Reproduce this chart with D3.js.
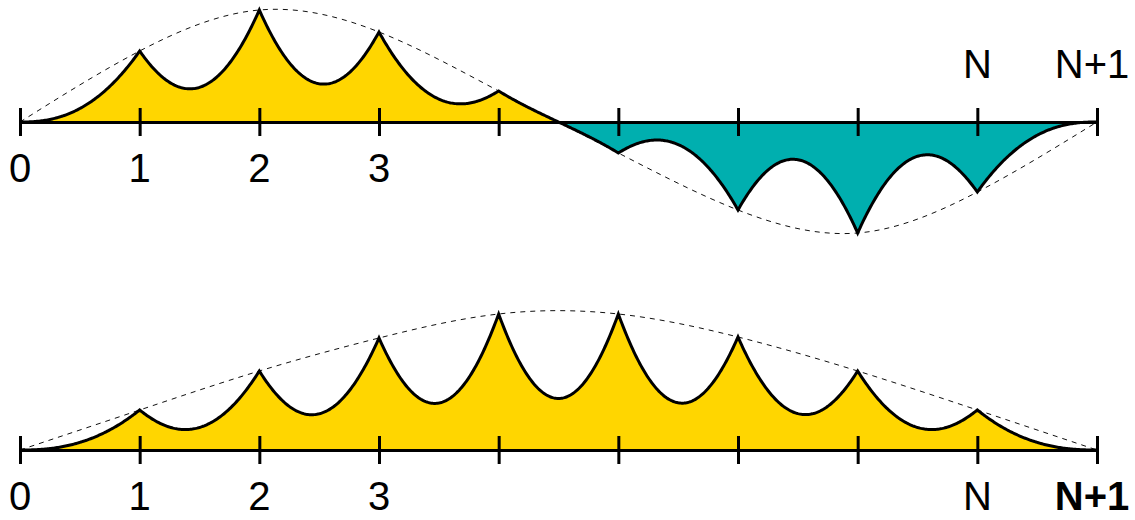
<!DOCTYPE html>
<html lang="en">
<head>
    <meta charset="UTF-8">
    <title>chain</title>
    <script src="https://cdn.jsdelivr.net/npm/d3@7"></script>
    <style>
        body { margin: 0; background: #fff; }
        text { font-family: "Liberation Sans", Arial, Helvetica, sans-serif; }
    </style>
</head>
<body>
<script type="text/javascript">
    // sites 0 .. N+1
    var sites = d3.range(10);
    // amplitude on each site (px units)
    var topValues = [0, 71, 112, 90, 31, -31, -88, -111, -70, 0];
    var bottomValues = [0, 40, 79, 112, 136, 136, 113, 79, 40, 0];
    var tickLabels = ['0', '1', '2', '3', '', '', '', '', 'N', 'N+1'];

    var width = 1135, height = 520;
    var svg = d3.select('body').append('svg')
            .attr('width', width)
            .attr('height', height);

    var x = d3.scaleLinear().domain([0, 9]).range([20, 1097]);

    // shape of one localized bump (cusp at the site, zero at the neighbours)
    function bump(d) {
        d = Math.abs(d);
        return d >= 1 ? 0 : Math.pow(1 - d, 2.4);
    }
    function wave(values, t) {
        var s = 0;
        values.forEach(function (c, i) { s += c * bump(t - i); });
        return s;
    }
    var samples = d3.range(0, 901).map(function (i) { return i / 100; });

    function panel(values, yScale, bold) {
        var g = svg.append('g');
        var pts = samples.map(function (t) { return [t, wave(values, t)]; });

        var pos = d3.area()
                .x(function (d) { return x(d[0]); })
                .y0(yScale(0))
                .y1(function (d) { return yScale(Math.max(d[1], 0)); });
        var neg = d3.area()
                .x(function (d) { return x(d[0]); })
                .y0(yScale(0))
                .y1(function (d) { return yScale(Math.min(d[1], 0)); });
        g.append('path').attr('d', pos(pts)).attr('fill', '#FFD600');
        g.append('path').attr('d', neg(pts)).attr('fill', '#00AFAF');

        // dashed envelope through the site amplitudes
        var env = d3.line()
                .x(function (d, i) { return x(i); })
                .y(function (d) { return yScale(d); })
                .curve(d3.curveNatural);
        g.append('path').attr('d', env(values))
                .attr('fill', 'none')
                .attr('stroke', '#111')
                .attr('stroke-width', 1)
                .attr('stroke-dasharray', '5,5');

        var line = d3.line()
                .x(function (d) { return x(d[0]); })
                .y(function (d) { return yScale(d[1]); });
        g.append('path').attr('d', line(pts))
                .attr('fill', 'none')
                .attr('stroke', '#000')
                .attr('stroke-width', 3)
                .attr('stroke-linejoin', 'miter');

        // axis with ticks both ways
        var axis = g.append('g')
                .attr('transform', 'translate(0,' + yScale(0) + ')')
                .call(d3.axisBottom(x).tickValues(sites).tickSizeOuter(0).tickFormat(''));
        axis.select('.domain').attr('stroke', '#000').attr('stroke-width', 3);
        axis.selectAll('.tick line')
                .attr('y1', -14).attr('y2', 14)
                .attr('stroke', '#000').attr('stroke-width', 3);

        g.selectAll('.lab')
                .data(tickLabels)
                .enter()
                .append('text')
                .attr('class', 'lab')
                .attr('x', function (d, i) { return x(i) - (i === 9 ? 5 : 0); })
                .attr('y', function (d, i) {
                    var above = values[i] < 0 || (i > 0 && values[i - 1] < 0);
                    return above ? yScale(0) - 44 : yScale(0) + 60;
                })
                .attr('text-anchor', 'middle')
                .attr('font-size', 40)
                .attr('font-weight', function (d, i) { return bold && i === 9 ? 'bold' : 'normal'; })
                .attr('fill', '#000')
                .text(function (d) { return d; });
    }

    panel(topValues, d3.scaleLinear().domain([-120, 120]).range([242, 2]), false);
    panel(bottomValues, d3.scaleLinear().domain([0, 140]).range([450, 310]), true);
</script>
</body>
</html>
